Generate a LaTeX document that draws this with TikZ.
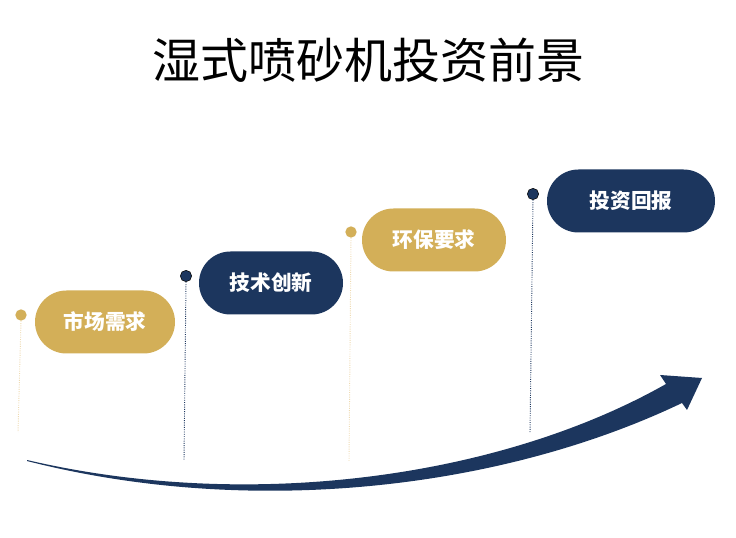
\documentclass[tikz,border=0pt]{standalone}
\usepackage{fontspec}
\usepackage{xcolor}
\usetikzlibrary{positioning}
\newfontfamily\cjk{Noto Sans CJK SC}
\definecolor{gold}{RGB}{211,175,88}
\definecolor{navy}{RGB}{28,54,94}
\definecolor{paleGold}{RGB}{238,218,176}

\begin{document}
\begin{tikzpicture}
[
x=0.75pt, y=-0.75pt,
title/.style={font=\cjk\fontsize{36}{40}\selectfont, text=black},
pill/.style={rectangle, rounded corners=23.6pt, minimum height=47.25pt, inner sep=0pt, text=white, font=\cjk\bfseries\fontsize{15.5}{18}\selectfont},
pill_gold/.style={pill, fill=gold},
pill_navy/.style={pill, fill=navy},
dot_gold/.style={circle, fill=gold, minimum size=8.5pt, inner sep=0pt},
dot_navy/.style={circle, fill=navy, draw=black, thin, minimum size=8.5pt, inner sep=0pt},
stem_gold/.style={draw=paleGold, densely dotted, line width=0.7pt},
stem_navy/.style={draw=navy, densely dotted, line width=0.7pt}
]
\useasboundingbox (0,0) rectangle (736,538);

%Nodes
\node[title]      (head)   at (368,60)    {湿式喷砂机投资前景};
\node[pill_gold, minimum width=105pt]  (market) at (105,322)  {市场需求};
\node[pill_navy, minimum width=108pt]  (tech)   at (271,283)  {技术创新};
\node[pill_gold, minimum width=108pt]  (green)  at (434,240)  {环保要求};
\node[pill_navy, minimum width=126pt]  (return) at (631,201)  {投资回报};

\node[dot_gold]   (dotA)   at (21,315)    {};
\node[dot_navy]   (dotB)   at (186,276)   {};
\node[dot_gold]   (dotC)   at (351,232)   {};
\node[dot_navy]   (dotD)   at (533,194)   {};

\coordinate (endA) at (18,432);
\coordinate (endB) at (184,460);
\coordinate (endC) at (349,462);
\coordinate (endD) at (530,433);

%Lines
\draw[stem_gold] (dotA.south) -- (endA);
\draw[stem_navy] (dotB.south) -- (endB);
\draw[stem_gold] (dotC.south) -- (endC);
\draw[stem_navy] (dotD.south) -- (endD);

%Arrow
\fill[navy] (27,460) .. controls (250,512) and (500,478) .. (666,384)
            -- (660,375) -- (702,378) -- (687,410) -- (682,403)
            .. controls (500,490) and (250,518) .. (27,461) -- cycle;

\end{tikzpicture}
\end{document}
